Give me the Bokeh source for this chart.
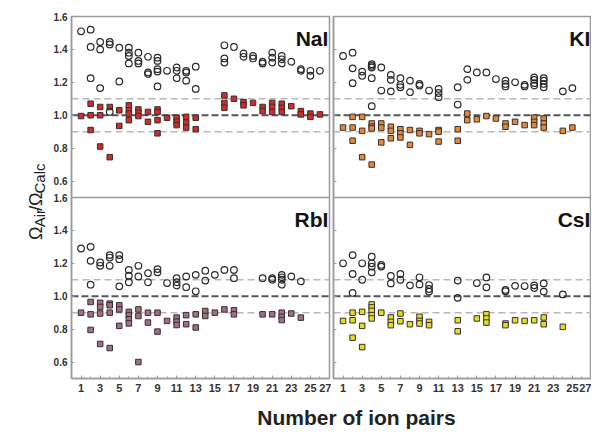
import math
from bokeh.plotting import figure
from bokeh.layouts import row, column
from bokeh.models import Range1d, Span, FixedTicker, CustomJSTickFormatter
from bokeh.core.properties import value
from bokeh.embed import file_html
from bokeh.resources import INLINE

# ---------------- data ----------------
x_tick_labels = list(range(1, 28, 2))
y_tick_labels = [0.6, 0.8, 1.0, 1.2, 1.4, 1.6]
ref_levels = [0.9, 1.0, 1.1]
panel_names = ["NaI", "KI", "RbI", "CsI"]
square_colors = ["#cf2b2b", "#e4883a", "#a0707c", "#e5dd24"]

nai_circ_x = [1, 2, 2, 2, 3, 3, 3, 4, 4, 4, 5, 5, 6, 6, 6, 6, 7, 7, 7, 8, 8, 8,
              9, 9, 9, 9, 9, 10, 11, 11, 11, 12, 12, 12, 13, 13, 16, 16, 16, 17,
              18, 18, 19, 19, 20, 20, 21, 21, 21, 22, 22, 22, 23, 24, 24, 25, 25, 26]
nai_circ_y = [1.51, 1.52, 1.415, 1.225, 1.445, 1.40, 1.165, 1.445, 1.43, 1.02,
              1.41, 1.205, 1.41, 1.38, 1.36, 1.315, 1.38, 1.33, 1.315, 1.355, 1.26, 1.25,
              1.35, 1.33, 1.28, 1.265, 1.175, 1.27, 1.29, 1.27, 1.225, 1.27, 1.26, 1.21,
              1.295, 1.16, 1.425, 1.345, 1.32, 1.415, 1.375, 1.355, 1.36, 1.345,
              1.325, 1.315, 1.38, 1.35, 1.32, 1.36, 1.34, 1.315, 1.325, 1.28, 1.27,
              1.27, 1.24, 1.27]
nai_sq_x = [1, 2, 2, 2, 3, 3, 3, 4, 4, 5, 5, 6, 6, 6, 6, 7, 7, 7, 8, 8, 9, 9, 9, 9,
            10, 11, 11, 11, 12, 12, 12, 13, 13, 16, 16, 16, 17, 18, 18, 19, 20, 20,
            21, 21, 21, 22, 22, 22, 23, 24, 24, 25, 25, 26]
nai_sq_y = [0.995, 1.07, 1.0, 0.91, 1.05, 1.0, 0.81, 1.05, 0.745, 1.03, 0.935,
            1.06, 1.03, 1.01, 0.97, 1.035, 1.015, 0.995, 1.02, 0.96, 1.035, 1.02, 0.97, 0.89,
            0.985, 0.985, 0.96, 0.94, 0.99, 0.955, 0.925, 0.985, 0.915, 1.12, 1.075, 1.045,
            1.10, 1.08, 1.06, 1.075, 1.05, 1.025, 1.075, 1.05, 1.02, 1.07, 1.045, 1.02,
            1.055, 1.025, 1.005, 1.01, 0.99, 1.005]

ki_circ_x = [1, 2, 2, 2, 3, 3, 4, 4, 4, 4, 4, 5, 5, 6, 6, 6, 7, 7, 7, 8, 8, 9, 9, 10,
             11, 11, 11, 13, 13, 14, 14, 15, 16, 17, 18, 18, 18, 19, 20, 20,
             21, 21, 21, 21, 22, 22, 22, 22, 24, 25]
ki_circ_y = [1.36, 1.38, 1.285, 1.195, 1.265, 1.24, 1.31, 1.30, 1.29, 1.225, 1.055,
             1.29, 1.15, 1.245, 1.215, 1.145, 1.225, 1.185, 1.17, 1.21, 1.14, 1.19, 1.18,
             1.15, 1.16, 1.135, 1.11, 1.17, 1.065, 1.28, 1.215, 1.26, 1.26, 1.22,
             1.21, 1.19, 1.175, 1.20, 1.185, 1.175, 1.23, 1.215, 1.195, 1.18,
             1.225, 1.21, 1.19, 1.17, 1.145, 1.165]
ki_sq_x = [1, 2, 2, 2, 3, 3, 3, 4, 4, 4, 4, 5, 5, 5, 6, 6, 6, 7, 7, 7, 8, 8, 9, 9, 10,
           11, 11, 11, 13, 13, 14, 14, 15, 16, 17, 18, 18, 19, 20, 21, 21, 21,
           22, 22, 22, 24, 25]
ki_sq_y = [0.925, 0.99, 0.925, 0.845, 0.99, 0.905, 0.745, 0.95, 0.93, 0.92, 0.70,
           0.95, 0.925, 0.835, 0.93, 0.905, 0.86, 0.915, 0.89, 0.865, 0.91, 0.82,
           0.905, 0.89, 0.885, 0.91, 0.90, 0.84, 0.915, 0.845, 1.01, 0.97, 0.975,
           0.995, 0.98, 0.95, 0.93, 0.96, 0.94, 0.985, 0.96, 0.94, 0.98, 0.95, 0.925,
           0.905, 0.925]

rbi_circ_x = [1, 2, 2, 2, 3, 3, 4, 4, 4, 5, 5, 5, 6, 6, 6, 7, 7, 8, 8, 9, 9, 10,
              11, 11, 11, 12, 12, 13, 13, 14, 14, 15, 16, 17, 17, 20, 21, 21,
              22, 22, 22, 22, 23, 24]
rbi_circ_y = [1.29, 1.30, 1.215, 1.07, 1.205, 1.185, 1.25, 1.235, 1.185, 1.25, 1.225, 1.06,
              1.16, 1.125, 1.085, 1.185, 1.12, 1.14, 1.085, 1.165, 1.145, 1.08,
              1.11, 1.085, 1.065, 1.12, 1.055, 1.13, 1.03, 1.155, 1.095, 1.13, 1.16,
              1.16, 1.11, 1.11, 1.11, 1.10, 1.13, 1.115, 1.10, 1.07, 1.12, 1.09]
rbi_sq_x = [1, 2, 2, 2, 3, 3, 3, 3, 4, 4, 4, 4, 5, 5, 5, 6, 6, 6, 6, 7, 7, 7, 8, 8,
            9, 9, 10, 11, 11, 11, 12, 12, 13, 13, 14, 14, 15, 16, 17, 17, 20, 21,
            22, 22, 22, 23, 24]
rbi_sq_y = [0.90, 0.965, 0.89, 0.795, 0.96, 0.935, 0.895, 0.71, 0.955, 0.945, 0.90, 0.685,
            0.945, 0.92, 0.82, 0.905, 0.885, 0.86, 0.835, 0.92, 0.88, 0.60, 0.90, 0.84,
            0.90, 0.785, 0.85, 0.87, 0.845, 0.825, 0.885, 0.83, 0.89, 0.81, 0.91, 0.88,
            0.90, 0.92, 0.915, 0.89, 0.89, 0.89, 0.90, 0.875, 0.855, 0.895, 0.87]

csi_circ_x = [1, 2, 2, 2, 3, 3, 4, 4, 4, 4, 5, 5, 6, 6, 7, 7, 8, 9, 9, 10, 10, 10,
              13, 13, 15, 16, 16, 18, 18, 19, 20, 21, 21, 22, 22, 24]
csi_circ_y = [1.20, 1.25, 1.135, 1.02, 1.20, 1.10, 1.24, 1.20, 1.18, 1.145, 1.19, 1.18,
              1.123, 1.078, 1.135, 1.10, 1.066, 1.115, 1.072, 1.068, 1.044, 1.028,
              1.095, 0.99, 1.08, 1.114, 1.054, 1.038, 1.03, 1.063, 1.062, 1.066, 1.05,
              1.078, 1.028, 1.011]
csi_sq_x = [1, 2, 2, 2, 3, 3, 3, 4, 4, 4, 4, 4, 5, 6, 6, 6, 7, 7, 8, 9, 9, 9, 10, 10,
            13, 13, 15, 16, 16, 16, 18, 18, 19, 20, 21, 22, 22, 24]
csi_sq_y = [0.85, 0.90, 0.854, 0.748, 0.905, 0.82, 0.691, 0.95, 0.932, 0.911, 0.885, 0.865,
            0.90, 0.871, 0.844, 0.824, 0.895, 0.848, 0.83, 0.875, 0.85, 0.834, 0.844, 0.824,
            0.854, 0.787, 0.865, 0.891, 0.865, 0.84, 0.834, 0.824, 0.854, 0.85, 0.854,
            0.871, 0.83, 0.814]

# ---------------- styling ----------------
X_LO, X_HI = 0, 27
Y_LO, Y_HI = 0.5, 1.6
SPAN = round(Y_HI - Y_LO, 3)
FONT = "Liberation Sans"
GRAY = "#9a9a9a"
FIG_H = 397


def add_panel(p, cx, cy, sx, sy, color, name, range_name):
    for lvl in ref_levels:
        main = abs(lvl - 1.0) < 1e-9
        p.add_layout(Span(location=lvl, dimension="width", y_range_name=range_name,
                          line_color="#555555" if main else "#b8b8b8",
                          line_width=2.0 if main else 1.4,
                          line_dash="7 3" if main else "7 4", level="underlay"))
    p.scatter(sx, sy, marker="square", size=5.5, fill_color=color,
              line_color="#3a2f2f", line_width=1.0, y_range_name=range_name)
    p.scatter(cx, cy, marker="circle", size=6.6, fill_color=None,
              line_color="#2a2a2a", line_width=1.2, y_range_name=range_name)
    p.text(x=[X_HI - 0.12], y=[Y_HI - 0.134], text=[name], text_align="right",
           text_baseline="alphabetic", text_font=value(FONT), text_font_style="bold",
           text_font_size="21px", text_color="#111111", y_range_name=range_name)


def col_fig(width, left_b, right_b, show_ylabels, top, bottom):
    p = figure(width=width, height=FIG_H, x_range=Range1d(X_LO, X_HI),
               y_range=Range1d(Y_LO - SPAN, Y_HI), output_backend="svg",
               toolbar_location=None, min_border_left=left_b, min_border_right=right_b,
               min_border_top=16, min_border_bottom=19)
    p.extra_y_ranges = {"bot": Range1d(Y_LO, Y_HI + SPAN)}
    p.xgrid.visible = False
    p.ygrid.visible = False
    p.background_fill_color = "white"
    p.border_fill_color = "white"
    p.outline_line_color = GRAY
    p.outline_line_width = 1.5
    # divider between the two stacked panels
    p.add_layout(Span(location=Y_LO, dimension="width", line_color=GRAY,
                      line_width=1.5))
    add_panel(p, *top, "default")
    add_panel(p, *bottom, "bot")

    xa = p.xaxis[0]
    xa.ticker = FixedTicker(ticks=x_tick_labels, minor_ticks=list(range(X_LO, X_HI + 1)))
    xa.major_tick_in = 3
    xa.major_tick_out = 0
    xa.minor_tick_in = 2
    xa.minor_tick_out = 0
    xa.axis_line_color = GRAY
    xa.axis_line_width = 1.5
    xa.major_tick_line_color = GRAY
    xa.minor_tick_line_color = GRAY
    xa.major_label_text_font = FONT
    xa.major_label_text_font_style = "bold"
    xa.major_label_text_font_size = "11px"
    xa.major_label_text_color = "#333333"
    xa.major_label_standoff = 5

    ya = p.yaxis[0]
    ya.ticker = FixedTicker(ticks=y_tick_labels + [round(v - SPAN, 3) for v in y_tick_labels])
    ya.major_tick_in = 3
    ya.major_tick_out = 0
    ya.minor_tick_line_color = None
    ya.axis_line_color = GRAY
    ya.axis_line_width = 1.5
    ya.major_tick_line_color = GRAY
    ya.major_label_text_font = FONT
    ya.major_label_text_font_style = "bold"
    ya.major_label_text_color = "#333333"
    ya.major_label_text_font_size = "10px"
    if show_ylabels:
        ya.formatter = CustomJSTickFormatter(
            code=f"const v = tick < {Y_LO + 0.05} ? tick + {SPAN} : tick; return v.toFixed(1);")
        ya.major_label_standoff = 4
    else:
        ya.formatter = CustomJSTickFormatter(code="return '';")
        ya.major_label_standoff = 0
    return p


left = col_fig(281, 21, 2, True,
               (nai_circ_x, nai_circ_y, nai_sq_x, nai_sq_y, square_colors[0], panel_names[0]),
               (rbi_circ_x, rbi_circ_y, rbi_sq_x, rbi_sq_y, square_colors[2], panel_names[2]))
right = col_fig(260, 2, 0, False,
                (ki_circ_x, ki_circ_y, ki_sq_x, ki_sq_y, square_colors[1], panel_names[1]),
                (csi_circ_x, csi_circ_y, csi_sq_x, csi_sq_y, square_colors[3], panel_names[3]))

# ---------------- y title (rotated, with subscripts) ----------------
ylab = figure(width=50, height=FIG_H, x_range=Range1d(0, 50), y_range=Range1d(0, FIG_H),
              output_backend="svg", toolbar_location=None, min_border=0)
ylab.axis.visible = False
ylab.xgrid.visible = False
ylab.ygrid.visible = False
ylab.outline_line_color = None
pieces = [("Ω", 18, 35, 152), ("Air", 15, 39, 165.8), ("/", 18, 35, 184.1),
          ("Ω", 18, 35, 189.1), ("Calc", 15, 39, 202.9)]
for txt, fs, bx, by in pieces:
    ylab.text(x=[bx], y=[by], text=[txt], angle=math.pi / 2, text_align="left",
              text_baseline="alphabetic", text_font=value(FONT),
              text_font_size=f"{fs}px", text_color="#222222")

# ---------------- x title ----------------
xlab = figure(width=591, height=36, x_range=Range1d(0, 591), y_range=Range1d(0, 36),
              output_backend="svg", toolbar_location=None, min_border=0, title=None)
xlab.axis.visible = False
xlab.xgrid.visible = False
xlab.ygrid.visible = False
xlab.outline_line_color = None
xlab.text(x=[356], y=[16], text=["Number of ion pairs"], text_align="center",
          text_baseline="middle", text_font=value(FONT), text_font_style="bold",
          text_font_size="21px", text_color="#222222")

layout = column(row(ylab, left, right), xlab)
open("out.html", "w").write(file_html(layout, INLINE))
